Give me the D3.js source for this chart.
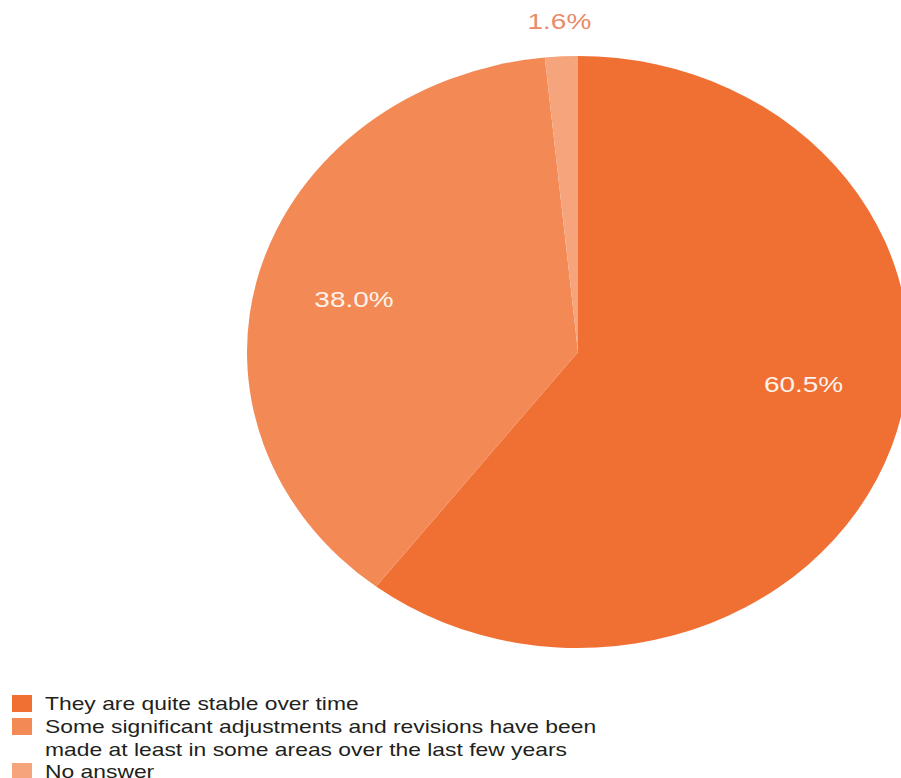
<!DOCTYPE html>
<html lang="en">
<head>
<meta charset="utf-8">
<title>Pie chart</title>
<script src="https://cdn.jsdelivr.net/npm/d3@7"></script>
<style>
  body { margin: 0; background: #fff; }
  text { font-family: "Liberation Sans", Arial, sans-serif; }
</style>
</head>
<body>
<script>
// data
var categories = [
  "They are quite stable over time",
  "Some significant adjustments and revisions have been|made at least in some areas over the last few years",
  "No answer"
];
var values = [60.5, 38.0, 1.6];
var colors = ["#f07034", "#f38a56", "#f5a47c"];

var w = 901, h = 778;
var cx = 578, cy = 352, rx = 331, ry = 296;
var stretch = 1.27; // the original picture is stretched sideways, text included

var svg = d3.select("body").append("svg")
  .attr("width", w)
  .attr("height", h);

var pie = d3.pie().sort(null).value(function(d) { return d; });
var arcs = pie(values);
var arc = d3.arc().innerRadius(0).outerRadius(ry);

// ellipse: draw circle pie and stretch horizontally
var g = svg.append("g")
  .attr("transform", "translate(" + cx + "," + cy + ") scale(" + (rx / ry) + ",1)");

g.selectAll("path")
  .data(arcs)
  .enter()
  .append("path")
  .attr("d", arc)
  .attr("fill", function(d, i) { return colors[i]; });

// label placement: radius fraction and angle nudge per slice
var labelR = [0.69, 0.70, 1.12];
var labelNudge = [-0.17, -0.02, 0];
svg.selectAll("text.lbl")
  .data(arcs)
  .enter()
  .append("text")
  .attr("class", "lbl")
  .attr("transform", function(d, i) {
    var a = (d.startAngle + d.endAngle) / 2 + labelNudge[i];
    var x = cx + Math.sin(a) * rx * labelR[i];
    var y = cy - Math.cos(a) * ry * labelR[i];
    return "translate(" + x + "," + y + ") scale(" + stretch + ",1)";
  })
  .attr("dy", "0.35em")
  .attr("text-anchor", "middle")
  .attr("font-size", "22px")
  .attr("fill", function(d, i) { return i === 2 ? "#e98a68" : "#fdf3ec"; })
  .text(function(d) { return d.value.toFixed(1) + "%"; });

// legend
var legend = svg.append("g").attr("transform", "translate(12,695)");
var rowY = [0, 23, 68];
categories.forEach(function(c, i) {
  legend.append("rect")
    .attr("x", 0)
    .attr("y", rowY[i])
    .attr("width", 20)
    .attr("height", 17)
    .attr("fill", colors[i]);
  var lines = c.split("|");
  lines.forEach(function(line, j) {
    legend.append("text")
      .attr("transform", "translate(33," + (rowY[i] + 15 + j * 23) + ") scale(" + stretch + ",1)")
      .attr("font-size", "18px")
      .attr("fill", "#231f20")
      .text(line);
  });
});
</script>
</body>
</html>
